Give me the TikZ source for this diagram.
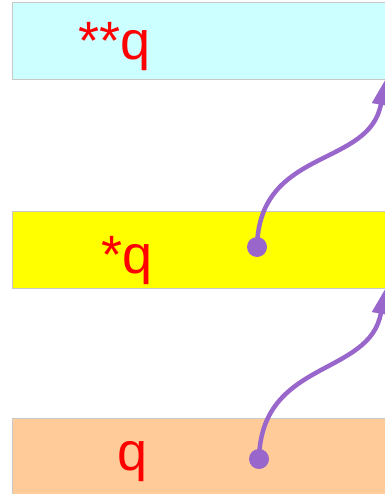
\documentclass[tikz,border=0pt]{standalone}
\usepackage{fontspec}
\setmainfont{Liberation Sans}
\usetikzlibrary{arrows.meta}
\definecolor{boxcyan}{HTML}{CCFFFF}
\definecolor{boxyellow}{HTML}{FFFF00}
\definecolor{boxorange}{HTML}{FFCC99}
\definecolor{boxline}{HTML}{C8C8C8}
\definecolor{ptrpurple}{HTML}{9966CC}
\definecolor{lblred}{HTML}{FF0000}
\tikzset{
  membox/.style={draw=boxline, line width=1pt, minimum width=388pt, minimum height=77pt, inner sep=0pt},
  lbl/.style={text=lblred, font=\fontsize{54}{54}\selectfont, inner sep=0pt, anchor=base west},
  ptrdot/.style={circle, fill=ptrpurple, minimum size=20pt, inner sep=0pt},
  ptr/.style={draw=ptrpurple, line width=4.5pt, -{Triangle[length=25pt,width=17pt]}}
}
\begin{document}
\begin{tikzpicture}[x=1pt,y=-1pt]
\useasboundingbox (0,0) rectangle (384,494);
\node[membox, fill=boxcyan] (b1) at (206,41.5) {};
\node[membox, fill=boxyellow] (b2) at (206,249.5) {};
\node[membox, fill=boxorange] (b3) at (206,456.5) {};
\node[lbl] (t1) at (78,60) {**q};
\node[lbl] (t2) at (101,273) {*q};
\node[lbl] (t3) at (117,470) {q};
\node[ptrdot] (d2) at (257,247) {};
\node[ptrdot] (d3) at (259,459) {};
\coordinate (tip1) at (385,80);
\coordinate (tip2) at (385,289);
\draw[ptr] (d2.center) .. controls (259,147) and (370,168) .. (tip1);
\draw[ptr] (d3.center) .. controls (261,359) and (370,377) .. (tip2);
\end{tikzpicture}
\end{document}
